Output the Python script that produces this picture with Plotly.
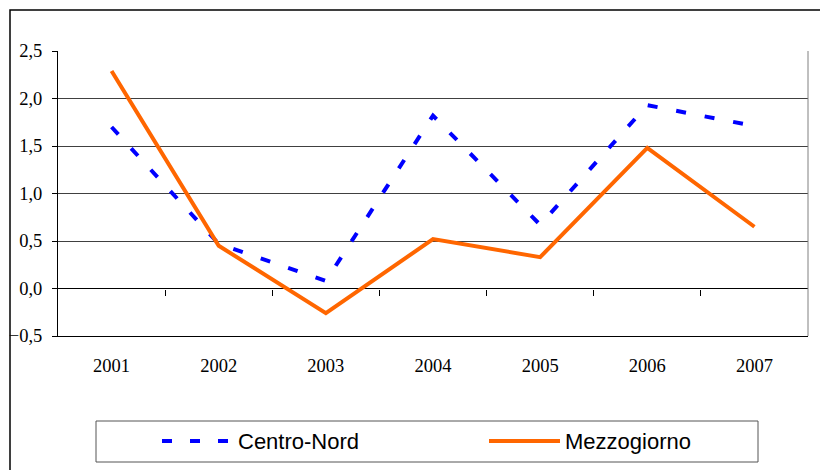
import plotly.graph_objects as go

# data
anni = ["2001", "2002", "2003", "2004", "2005", "2006", "2007"]
centro_nord = [1.70, 0.47, 0.08, 1.82, 0.67, 1.93, 1.71]
mezzogiorno = [2.29, 0.45, -0.26, 0.52, 0.33, 1.48, 0.65]

W, H = 828, 470
OFF = 8  # the page body has an 8px margin


def px(x):
    return (x - OFF) / W


def py(y):
    return 1 - (y - OFF) / H


fig = go.Figure()

# Centro-Nord line
fig.add_trace(go.Scatter(x=anni, y=centro_nord, mode="lines", name="Centro-Nord",
                         line=dict(color="#0000FF", width=4, dash="10px,19px"),
                         showlegend=False))
# Mezzogiorno line
fig.add_trace(go.Scatter(x=anni, y=mezzogiorno, mode="lines", name="Mezzogiorno",
                         line=dict(color="#FF6600", width=4),
                         showlegend=False))
# empty trace so the second x axis (ticks on the zero line) gets drawn
fig.add_trace(go.Scatter(x=[], y=[], xaxis="x2", showlegend=False, hoverinfo="skip"))

tick_font = dict(family="Liberation Serif", size=18.5, color="black")

fig.update_layout(
    width=W, height=H,
    margin=dict(l=0, r=0, t=0, b=0),
    paper_bgcolor="white", plot_bgcolor="white",
    separators=",.",
    showlegend=False,
    xaxis=dict(type="category", range=[-0.5, 6.5],
               domain=[px(58), px(808)], automargin=False,
               showline=True, linecolor="black", linewidth=1,
               showgrid=False, ticks="", tickfont=tick_font,
               ticklabelstandoff=13),
    xaxis2=dict(overlaying="x", anchor="free", position=py(288.5),
                range=[-0.5, 6.5], domain=[px(58), px(808)],
                tickvals=[0.5, 1.5, 2.5, 3.5, 4.5, 5.5],
                ticks="outside", ticklen=6, tickcolor="black", tickwidth=1,
                showticklabels=False, showgrid=False, showline=False, zeroline=False),
    yaxis=dict(range=[-0.5, 2.5], dtick=0.5, tickformat=".1f",
               domain=[py(336), py(51)], automargin=False,
               showline=True, linecolor="black", linewidth=1,
               gridcolor="#404040", gridwidth=1,
               zeroline=True, zerolinecolor="black", zerolinewidth=1,
               ticks="outside", ticklen=5, tickcolor="black",
               tickfont=tick_font, ticklabelstandoff=6),
)

shapes = []
# outer frame
shapes.append(dict(type="rect", xref="paper", yref="paper",
                   x0=px(10), y0=-0.1, x1=1.1, y1=py(10),
                   line=dict(color="black", width=1.5)))
# right border of plot area
shapes.append(dict(type="line", xref="paper", yref="paper",
                   x0=px(808), y0=py(336), x1=px(808), y1=py(51),
                   line=dict(color="#808080", width=1)))
# legend box
shapes.append(dict(type="rect", xref="paper", yref="paper",
                   x0=px(96), y0=py(462), x1=px(758), y1=py(421),
                   line=dict(color="#555555", width=1)))
shapes.append(dict(type="line", xref="paper", yref="paper",
                   x0=px(162), y0=py(441), x1=px(228), y1=py(441),
                   line=dict(color="#0000FF", width=4, dash="10px,18px")))
shapes.append(dict(type="line", xref="paper", yref="paper",
                   x0=px(489), y0=py(441), x1=px(560), y1=py(441),
                   line=dict(color="#FF6600", width=4)))
fig.update_layout(shapes=shapes)

leg_font = dict(family="Liberation Sans, Arial, sans-serif", size=22, color="black")
fig.add_annotation(x=px(236), y=py(441), xref="paper", yref="paper", text="Centro-Nord",
                   showarrow=False, xanchor="left", yanchor="middle", font=leg_font)
fig.add_annotation(x=px(563), y=py(441), xref="paper", yref="paper", text="Mezzogiorno",
                   showarrow=False, xanchor="left", yanchor="middle", font=leg_font)

fig.write_html("out.html")
